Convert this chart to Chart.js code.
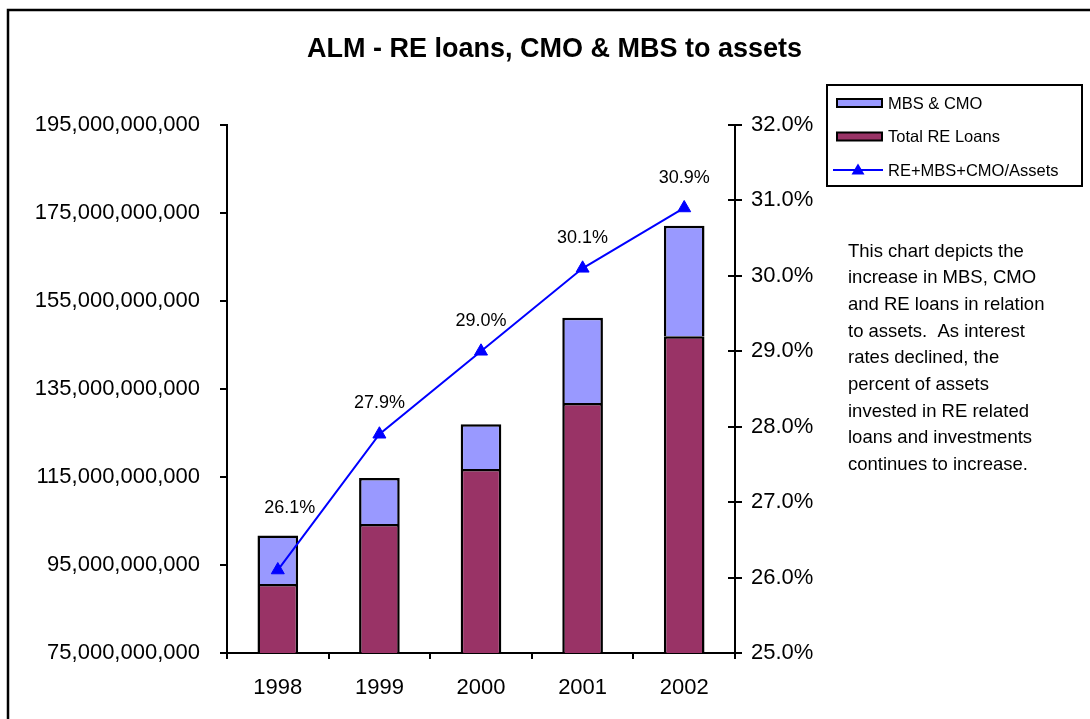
<!DOCTYPE html>
<html>
<head>
<meta charset="utf-8">
<script src="https://cdn.jsdelivr.net/npm/chart.js@4.4.1/dist/chart.umd.min.js"></script>
<style>
  html, body { margin: 0; padding: 0; background: #ffffff; }
  #wrap { width: 1090px; height: 719px; position: relative; }
</style>
</head>
<body>
<div id="wrap"><canvas id="c" width="1090" height="719"></canvas></div>
<script>
// ---- data ----
const categories = ['1998', '1999', '2000', '2001', '2002'];
const reLoans = [90.7e9, 104.3e9, 116.8e9, 131.8e9, 147.0e9];
const mbsCmo = [11.0e9, 10.5e9, 10.2e9, 19.4e9, 25.1e9];
const ratioPct = [26.1, 27.9, 29.0, 30.1, 30.9];
const leftAxisRange = [75e9, 195e9, 20e9];
const rightAxisRange = [25, 32, 1];
const titleText = 'ALM - RE loans, CMO & MBS to assets';
const noteLines = [
  'This chart depicts the',
  'increase in MBS, CMO',
  'and RE loans in relation',
  'to assets.  As interest',
  'rates declined, the',
  'percent of assets',
  'invested in RE related',
  'loans and investments',
  'continues to increase.'
];

// ---- styles ----
const FONT = '"Liberation Sans", Arial, sans-serif';
const labelOffsets = [[12, -62], [0, -31], [0, -30], [0, -30], [0, -30]];

const framePlugin = {
  id: 'frame',
  beforeDraw(chart) {
    const ctx = chart.ctx;
    ctx.save();
    ctx.fillStyle = '#ffffff';
    ctx.fillRect(0, 0, chart.width, chart.height);
    ctx.strokeStyle = '#000000';
    ctx.lineWidth = 2.5;
    ctx.strokeRect(8, 10, 1200, 800);
    ctx.restore();
  }
};

const innerTicksPlugin = {
  id: 'innerTicks',
  afterDraw(chart) {
    const s = chart.scales.y2;
    const ctx = chart.ctx;
    ctx.save();
    ctx.strokeStyle = '#000';
    ctx.lineWidth = 2;
    s.ticks.forEach(t => {
      const y = Math.round(s.getPixelForValue(t.value));
      ctx.beginPath();
      ctx.moveTo(chart.chartArea.right - 7, y);
      ctx.lineTo(chart.chartArea.right, y);
      ctx.stroke();
    });
    ctx.restore();
  }
};

const pointLabelsPlugin = {
  id: 'pointLabels',
  afterDatasetsDraw(chart) {
    const ctx = chart.ctx;
    const meta = chart.getDatasetMeta(0);
    ctx.save();
    ctx.font = '18px ' + FONT;
    ctx.fillStyle = '#000';
    ctx.textAlign = 'center';
    ctx.textBaseline = 'middle';
    meta.data.forEach((pt, i) => {
      const v = chart.data.datasets[0].data[i];
      ctx.fillText(v.toFixed(1) + '%', pt.x + labelOffsets[i][0], pt.y + labelOffsets[i][1]);
    });
    ctx.restore();
  }
};

const sideLegendPlugin = {
  id: 'sideLegend',
  afterDraw(chart) {
    const ctx = chart.ctx;
    const ds = chart.data.datasets;
    ctx.save();
    ctx.strokeStyle = '#000';
    ctx.lineWidth = 2;
    ctx.strokeRect(827, 85, 255, 101);
    const items = [ds[2], ds[1], ds[0]];
    const ys = [103, 136.5, 170];
    ctx.font = '16.5px ' + FONT;
    ctx.textBaseline = 'middle';
    ctx.textAlign = 'left';
    items.forEach((d, i) => {
      const y = ys[i];
      if (d.type === 'line') {
        ctx.strokeStyle = d.borderColor;
        ctx.lineWidth = 2;
        ctx.beginPath();
        ctx.moveTo(833, y);
        ctx.lineTo(883, y);
        ctx.stroke();
        ctx.fillStyle = d.pointBackgroundColor;
        ctx.beginPath();
        ctx.moveTo(858, y - 6.5);
        ctx.lineTo(864.5, y + 4.5);
        ctx.lineTo(851.5, y + 4.5);
        ctx.closePath();
        ctx.fill();
      } else {
        ctx.fillStyle = d.backgroundColor;
        ctx.fillRect(837, y - 4, 45, 8);
        ctx.strokeStyle = '#000';
        ctx.lineWidth = 2;
        ctx.strokeRect(837, y - 4, 45, 8);
      }
      ctx.fillStyle = '#000';
      ctx.fillText(d.label, 888, y + 1);
    });
    // note text
    ctx.font = '18.5px ' + FONT;
    ctx.textBaseline = 'alphabetic';
    noteLines.forEach((line, i) => {
      ctx.fillText(line, 848, 256.5 + i * 26.7);
    });
    ctx.restore();
  }
};

const axisFont = { family: FONT, size: 22 };

new Chart(document.getElementById('c'), {
  data: {
    labels: categories,
    datasets: [
      {
        type: 'line',
        label: 'RE+MBS+CMO/Assets',
        data: ratioPct,
        yAxisID: 'y2',
        borderColor: '#0000FF',
        backgroundColor: '#0000FF',
        pointBackgroundColor: '#0000FF',
        pointBorderColor: '#0000FF',
        borderWidth: 2,
        pointStyle: 'triangle',
        pointRadius: 7.5,
        pointBorderWidth: 1,
        tension: 0,
        order: 0
      },
      {
        type: 'bar',
        label: 'Total RE Loans',
        data: reLoans,
        yAxisID: 'y',
        backgroundColor: '#993366',
        borderColor: '#000000',
        borderWidth: 2.5,
        borderSkipped: false,
        barPercentage: 0.4,
        categoryPercentage: 1.0,
        order: 1
      },
      {
        type: 'bar',
        label: 'MBS & CMO',
        data: mbsCmo,
        yAxisID: 'y',
        backgroundColor: '#9999FF',
        borderColor: '#000000',
        borderWidth: 2.5,
        borderSkipped: 'bottom',
        barPercentage: 0.4,
        categoryPercentage: 1.0,
        order: 1
      }
    ]
  },
  options: {
    responsive: false,
    animation: false,
    devicePixelRatio: 1,
    layout: { padding: { left: 19, right: 0, top: 0, bottom: 0 } },
    plugins: {
      legend: { display: false },
      tooltip: { enabled: false },
      title: {
        display: true,
        text: titleText,
        color: '#000',
        font: { family: FONT, size: 27, weight: 'bold' },
        padding: { top: 33.8, bottom: 58.8 }
      }
    },
    scales: {
      x: {
        stacked: true,
        offset: true,
        afterFit(s) { s.height = 66; },
        grid: { display: true, drawOnChartArea: false, offset: true, tickLength: 6, color: '#000', lineWidth: 2 },
        border: { display: true, color: '#000', width: 2 },
        ticks: { color: '#000', font: axisFont, padding: 16, maxRotation: 0 }
      },
      y: {
        position: 'left',
        stacked: true,
        min: leftAxisRange[0],
        max: leftAxisRange[1],
        afterFit(s) { s.width = 208; },
        grid: { display: true, drawOnChartArea: false, tickLength: 7, color: '#000', lineWidth: 2 },
        border: { display: true, color: '#000', width: 2 },
        ticks: {
          stepSize: leftAxisRange[2],
          color: '#000',
          font: axisFont,
          padding: 20,
          callback: v => Number(v).toLocaleString('en-US')
        }
      },
      y2: {
        position: 'right',
        min: rightAxisRange[0],
        max: rightAxisRange[1],
        afterFit(s) { s.width = 355; },
        grid: { display: true, drawOnChartArea: false, tickLength: 7, color: '#000', lineWidth: 2 },
        border: { display: true, color: '#000', width: 2 },
        ticks: {
          stepSize: rightAxisRange[2],
          color: '#000',
          font: axisFont,
          padding: 9,
          callback: v => Number(v).toFixed(1) + '%'
        }
      }
    }
  },
  plugins: [framePlugin, innerTicksPlugin, pointLabelsPlugin, sideLegendPlugin]
});
</script>
</body>
</html>
